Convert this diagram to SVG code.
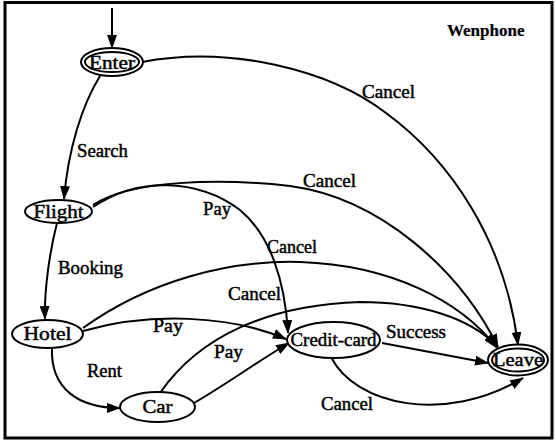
<svg xmlns="http://www.w3.org/2000/svg" width="556" height="440" viewBox="0 0 556 440">
<defs>
<marker id="ah" markerUnits="userSpaceOnUse" markerWidth="14" markerHeight="10" refX="13" refY="5" orient="auto">
<path d="M0,0 L14,5 L0,10 Z" fill="#000"/>
</marker>
<style>
.e{fill:none;stroke:#000;stroke-width:2;marker-end:url(#ah)}
.n{fill:#fff;stroke:#000;stroke-width:2}
.t{font-family:'Liberation Serif','Times New Roman',serif;font-size:18px;fill:#000;stroke:#000;stroke-width:0.45}
.c{text-anchor:middle}
</style>
</defs>
<rect x="0" y="0" width="556" height="440" fill="#fff"/>
<rect x="5" y="2.5" width="547" height="435.5" fill="none" stroke="#000" stroke-width="3"/>
<text class="t" x="447" y="36" style="font-weight:bold;font-size:17px;stroke-width:0.2">Wenphone</text>
<g id="edges">
<path class="e" d="M112,8 L112,48"/>
<path class="e" d="M100,76 C82,105 68,150 64,199"/>
<path class="e" d="M142,62 C230,45 330,70 386,113 C450,160 505,240 518,345"/>
<path class="e" d="M93,205 C130,180 220,178 290,186 C380,198 460,270 498,347"/>
<path class="e" d="M93,207 C140,175 200,180 240,210 C270,235 285,280 288,333"/>
<path class="e" d="M57,223 C50,250 44,290 45,319"/>
<path class="e" d="M83,328 C150,280 230,260 300,262 C390,265 460,300 497,348"/>
<path class="e" d="M83,331 C150,312 230,315 286,339"/>
<path class="e" d="M52,347 C50,390 80,408 120,408"/>
<path class="e" d="M194,403 C225,385 260,360 289,343"/>
<path class="e" d="M160,393 C200,335 270,305 360,302 C420,302 470,318 497,346"/>
<path class="e" d="M382,343 L488,363"/>
<path class="e" d="M331,357 C355,405 445,425 523,378"/>
</g>
<g id="edge-labels">
<text class="t" x="77" y="157" textLength="51" lengthAdjust="spacingAndGlyphs">Search</text>
<text class="t" x="362" y="98" textLength="53" lengthAdjust="spacingAndGlyphs">Cancel</text>
<text class="t" x="303" y="187" textLength="53" lengthAdjust="spacingAndGlyphs">Cancel</text>
<text class="t" x="203" y="215" textLength="28" lengthAdjust="spacingAndGlyphs">Pay</text>
<text class="t" x="267" y="253" textLength="50" lengthAdjust="spacingAndGlyphs">Cancel</text>
<text class="t" x="58" y="274" textLength="65" lengthAdjust="spacingAndGlyphs">Booking</text>
<text class="t" x="228" y="300" textLength="53" lengthAdjust="spacingAndGlyphs">Cancel</text>
<text class="t" x="153" y="332" textLength="30" lengthAdjust="spacingAndGlyphs">Pay</text>
<text class="t" x="386" y="338" textLength="60" lengthAdjust="spacingAndGlyphs">Success</text>
<text class="t" x="214" y="358" textLength="29" lengthAdjust="spacingAndGlyphs">Pay</text>
<text class="t" x="87" y="377" textLength="35" lengthAdjust="spacingAndGlyphs">Rent</text>
<text class="t" x="321" y="410" textLength="52" lengthAdjust="spacingAndGlyphs">Cancel</text>
</g>
<g id="node-enter">
<ellipse class="n" cx="112" cy="62" rx="31" ry="14"/>
<ellipse class="n" cx="112" cy="62" rx="27" ry="10"/>
<text class="t c" x="112" y="69" textLength="46" lengthAdjust="spacingAndGlyphs">Enter</text>
</g>
<g id="node-flight">
<ellipse class="n" cx="58.5" cy="211.5" rx="33.5" ry="11.5"/>
<text class="t c" x="58.5" y="218" textLength="50" lengthAdjust="spacingAndGlyphs">Flight</text>
</g>
<g id="node-hotel">
<ellipse class="n" cx="47.5" cy="334" rx="35.5" ry="14"/>
<text class="t c" x="47.5" y="340" textLength="48" lengthAdjust="spacingAndGlyphs">Hotel</text>
</g>
<g id="node-car">
<ellipse class="n" cx="157.5" cy="407" rx="37.5" ry="15"/>
<text class="t c" x="157.5" y="413" textLength="30" lengthAdjust="spacingAndGlyphs">Car</text>
</g>
<g id="node-creditcard">
<ellipse class="n" cx="333.5" cy="340" rx="46.5" ry="18"/>
<text class="t c" x="333.5" y="346" textLength="86" lengthAdjust="spacingAndGlyphs">Credit-card</text>
</g>
<g id="node-leave">
<ellipse class="n" cx="518" cy="360" rx="30" ry="15.5"/>
<ellipse class="n" cx="518" cy="360" rx="26" ry="11.5"/>
<text class="t c" x="518" y="366" textLength="50" lengthAdjust="spacingAndGlyphs">Leave</text>
</g>
</svg>
